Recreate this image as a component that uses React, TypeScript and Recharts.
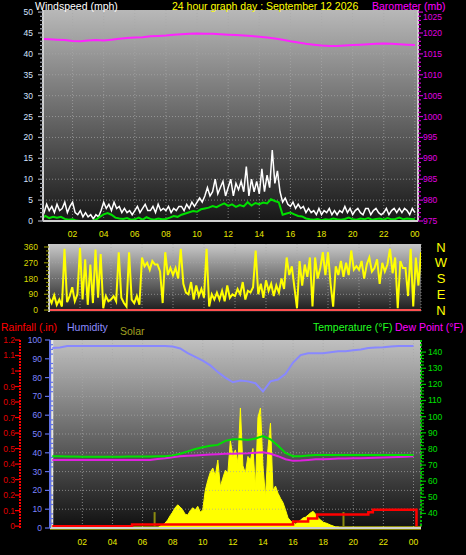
import React from "react";
import { ComposedChart, Line, Area, XAxis, YAxis, CartesianGrid, ReferenceLine } from "recharts";

const FONT = '"Liberation Sans", Arial, sans-serif';

// ---- tick labels ----
const hourTicks = [2, 4, 6, 8, 10, 12, 14, 16, 18, 20, 22, 24];
const windMajor = [0, 5, 10, 15, 20, 25, 30, 35, 40, 45, 50];
const baroMajor = [975, 980, 985, 990, 995, 1000, 1005, 1010, 1015, 1020, 1025];
const dirMajor = [0, 90, 180, 270, 360];
const compass = ["N", "E", "S", "W", "N"];
const humMajor = [0, 10, 20, 30, 40, 50, 60, 70, 80, 90, 100];
const rainMajor = [0, 0.1, 0.2, 0.3, 0.4, 0.5, 0.6, 0.7, 0.8, 0.9, 1, 1.1, 1.2];
const tempMajor = [40, 50, 60, 70, 80, 90, 100, 110, 120, 130, 140];
const humGrid = [10, 20, 30, 40, 50, 60, 70, 80, 90];
const windGrid = [5, 10, 15, 20, 25, 30, 35, 40, 45];
const dirGrid = [90, 180, 270];

// ---- 10 minute samples, 00:00 -> 24:00 ----
const windSpeed = [
  3, 2, 4, 2.5, 3.5, 2, 4, 2.5, 3, 4.5, 2, 3.5,
  4.5, 2, 1.5, 2.5, 1, 2, 1, 1.5, 0.5, 1.5, 1, 2.5,
  4.5, 3, 4, 2.5, 4.5, 3, 3.5, 2, 3, 2, 2.5, 1.5,
  2.5, 3.5, 2, 3, 4, 2.5, 2.5, 3.5, 2, 4, 2.5, 3,
  2.5, 3.5, 2, 3, 2.5, 3.5, 3.5, 2.5, 4, 3, 4.5, 3.5,
  4.5, 5.5, 4.5, 6, 8, 6, 7, 10, 6.5, 8, 9.5, 6,
  8, 10, 6, 9, 7.5, 9.5, 7, 13, 6, 10, 7, 9.5,
  6.5, 12.5, 7, 11, 8, 17, 9, 12, 7, 4.5, 5.5, 4,
  3.5, 4.5, 3, 4, 3, 3.5, 2, 3, 2, 2.5, 1.5, 3,
  1.5, 2.5, 2, 3, 1.5, 2.5, 1.5, 2.5, 2, 3.5, 2, 3,
  1.5, 2.5, 3, 2, 1.5, 3, 3, 1.5, 2.5, 3, 2, 1.5,
  2, 3, 1.5, 2.5, 3, 2, 3, 2, 3, 2.5, 1.5, 3,
  2,
];
const windDir = [
  70, 40, 85, 30, 60, 20, 350, 45, 80, 130, 50, 90,
  355, 60, 290, 30, 260, 40, 345, 70, 320, 10, 80, 50,
  60, 80, 50, 330, 70, 40, 20, 330, 60, 40, 80, 30,
  300, 250, 270, 230, 280, 260, 260, 220, 40, 330, 200, 240,
  200, 240, 180, 350, 150, 100, 90, 160, 60, 140, 80, 120,
  70, 350, 20, 90, 60, 100, 60, 110, 50, 140, 70, 90,
  80, 120, 90, 160, 60, 110, 100, 130, 340, 90, 150, 70,
  170, 110, 150, 80, 140, 100, 180, 120, 300, 200, 250, 130,
  10, 280, 140, 260, 190, 300, 20, 300, 180, 240, 330, 200,
  330, 150, 20, 250, 200, 280, 190, 270, 200, 340, 230, 250,
  230, 280, 180, 260, 300, 220, 240, 290, 150, 270, 220, 260,
  350, 210, 300, 10, 280, 240, 240, 80, 350, 20, 300, 140,
  330,
];

// ---- 15 minute samples, 00:00 -> 24:00 ----
const windAvg = [
  0.5, 1.2, 0.7, 1, 0.8, 1, 0.5, 0.3, 0.4, 0.1, 0, 0, 0, 0, 0.3, 1,
  1.6, 1.9, 1.5, 0.8, 0.6, 0.5, 0.7, 0.3, 0.4, 0.8, 0.3, 0.9, 0.5, 0.3, 0.6, 0.4,
  0.5, 0.8, 1.2, 1, 1.5, 1.8, 2.1, 2.4, 2.2, 2.8, 3, 3.2, 3.6, 3.3, 3.8, 4.2,
  3.6, 4, 3.4, 3.8, 3.5, 4.5, 3.7, 4.3, 4, 4.4, 4.2, 5.2, 4.8, 4.5, 1.5, 1.8,
  2, 1.6, 1.2, 1.1, 0.6, 0.4, 0.3, 0.5, 0.2, 0.4, 0.3, 0.6, 0.4, 0.3, 0.5, 0.8,
  0.4, 0.3, 0.6, 0.4, 0.7, 0.3, 0.5, 0.6, 0.3, 0.7, 0.4, 0.5, 0.8, 0.4, 0.6, 0.5,
  0.4,
];

// ---- 30 minute samples, 00:00 -> 24:00 ----
const barometer = [
  1018.6, 1018.5, 1018.4, 1018.3, 1018.1, 1018.0, 1018.2, 1018.3, 1018.2, 1018.4,
  1018.6, 1018.8, 1018.9, 1019.0, 1019.2, 1019.3, 1019.4, 1019.6, 1019.7, 1019.8,
  1019.9, 1019.8, 1019.8, 1019.7, 1019.6, 1019.5, 1019.4, 1019.3, 1019.1, 1018.9,
  1018.7, 1018.4, 1018.0, 1017.7, 1017.4, 1017.2, 1017.0, 1016.9, 1016.9, 1017.0,
  1017.1, 1017.2, 1017.3, 1017.4, 1017.5, 1017.4, 1017.3, 1017.2, 1017.1,
];
const humidity = [
  95.7, 96, 96.8, 96.8, 96.8, 96.8, 96.8, 96.8, 96.8, 96.8,
  96.8, 96.8, 96.8, 96.8, 96.8, 96.8, 96.5, 95.5, 93, 91,
  89, 86.5, 83, 80, 77.5, 78.5, 78, 77, 72.6, 78,
  79, 82, 88, 92, 93, 93, 93, 93.5, 94, 94,
  94.5, 95, 95.7, 96, 96.2, 96.5, 96.8, 96.8, 96.8,
];
const temperature = [
  75.5, 75.5, 75.3, 75.3, 75.2, 75.2, 75.2, 75.2, 75.2, 75.2,
  75.3, 75.3, 75.3, 75.3, 75.5, 75.5, 76, 77, 78.5, 80,
  81, 82, 82.5, 85, 86, 86, 85.5, 86.5, 88, 86,
  82, 77.5, 75.5, 75.5, 76, 76.2, 76.2, 76.2, 76.2, 76.2,
  76.2, 76.2, 76.2, 76.2, 76.2, 76.2, 76.2, 76.2, 76.2,
];
const dewPoint = [
  73.2, 73.2, 73.2, 73.2, 73.2, 73.2, 73.2, 73.2, 73.2, 73.2,
  73.2, 73.2, 73.2, 73.2, 73.8, 74.2, 74.8, 75.4, 75.8, 76,
  76.3, 76.5, 76.7, 77, 77, 77.2, 77.3, 77.6, 78, 77,
  75.5, 73.6, 72.6, 72.8, 73.2, 73.6, 73.6, 73.8, 74, 74,
  74.2, 74.2, 74.4, 74.5, 74.7, 74.8, 75, 75.2, 75.5,
];

// ---- solar radiation, 10 minute samples from 07:00 ----
const SOLAR_START = 7;
const solar = [
  0, 14, 20, 35, 55, 85, 110, 140, 160, 145, 125, 95,
  90, 120, 140, 125, 150, 110, 125, 260, 330, 385, 415, 360,
  470, 285, 345, 400, 380, 605, 495, 540, 450, 830, 430, 380,
  495, 470, 550, 285, 765, 830, 430, 215, 550, 725, 260, 290,
  240, 205, 175, 125, 70, 50, 35, 28, 40, 55, 70, 75,
  90, 105, 115, 95, 70, 55, 40, 35, 28, 20, 14, 7,
  7, 0, 0, 0,
];

// ---- rainfall (running total, inches) ----
const rainHours = [0, 5.3, 16.0, 17.0, 17.6, 20.8, 21.0, 21.3, 24.2];
const rainTotals = [0, 0.01, 0.03, 0.05, 0.075, 0.075, 0.09, 0.106, 0];

const sunMarks = [6.8, 19.35];
const SUN_MARK_HEIGHT = 110;

const rows = (vals: number[], step: number, start = 0) =>
  vals.map((v, i) => ({ h: start + i * step, v }));

const withMinor = (major: number[], parts: number) => {
  const out: number[] = [];
  for (let i = 0; i < major.length - 1; i++) {
    const step = (major[i + 1] - major[i]) / parts;
    for (let k = 0; k < parts; k++) out.push(major[i] + k * step);
  }
  out.push(major[major.length - 1]);
  return out;
};

const fmtHour = (v: number) => (v === 24 ? "00" : String(v).padStart(2, "0"));

const HourTick = (offset: number) => (p: any) => (
  <text x={p.x} y={p.y + offset} textAnchor="middle" fill="#e8e800" fontSize={8.5} fontFamily={FONT}>
    {fmtHour(p.payload.value)}
  </text>
);

type TickOpts = {
  side: "left" | "right";
  majors: number[];
  label: string;
  mark: string;
  gap: number;
  fmt?: (v: number) => string;
  minorOut?: boolean;
  topNudge?: number;
};
const makeTick = (o: TickOpts) => (p: any) => {
  const v = p.payload.value;
  const major = o.majors.some((m) => Math.abs(m - v) < 1e-6);
  const d = o.side === "left" ? -1 : 1;
  const len = major ? 5 : 3;
  const start = !major && o.minorOut ? -d * 3 : 0;
  const nudge = o.topNudge && v === o.majors[o.majors.length - 1] ? o.topNudge : 0;
  return (
    <g>
      <line x1={p.x + start} x2={p.x + start + d * len} y1={p.y} y2={p.y} stroke={o.mark} strokeWidth={1.2} />
      {major && (
        <text
          x={p.x + d * o.gap}
          y={p.y + nudge}
          dy="0.35em"
          textAnchor={o.side === "left" ? "end" : "start"}
          fill={o.label}
          fontSize={8.5}
          fontFamily={FONT}
        >
          {o.fmt ? o.fmt(v) : v}
        </text>
      )}
    </g>
  );
};

const CompassTick = (p: any) => {
  const i = dirMajor.indexOf(p.payload.value);
  return (
    <text x={p.x + 20} y={p.y} dy="0.36em" textAnchor="middle" fill="#ffff00" fontSize={13} fontFamily={FONT}>
      {compass[i]}
    </text>
  );
};

const grid = { stroke: "#a8a8a8", strokeDasharray: "1 2", strokeOpacity: 0.7 };
const frame = "#d0d0d0";

function WindPanel() {
  return (
    <ComposedChart width={466} height={245} margin={{ top: 10, right: 0, bottom: 4, left: 0 }}>
      <defs>
        <linearGradient id="bgTop" x1="0" y1="0" x2="0" y2="1">
          <stop offset="0%" stopColor="#b8b8b8" />
          <stop offset="100%" stopColor="#181818" />
        </linearGradient>
      </defs>
      <CartesianGrid yAxisId="wind" fill="url(#bgTop)" fillOpacity={1} horizontal={false} {...grid} />
      <XAxis
        type="number"
        dataKey="h"
        domain={[0.1, 24.2]}
        allowDataOverflow
        ticks={hourTicks}
        interval={0}
        height={20}
        tickSize={0}
        tickMargin={0}
        tickLine={false}
        axisLine={{ stroke: frame, strokeWidth: 2 }}
        tick={HourTick(16)}
      />
      <YAxis
        yAxisId="wind"
        width={43}
        domain={[0, 50.5]}
        allowDataOverflow
        ticks={withMinor(windMajor, 5)}
        interval={0}
        tickSize={0}
        tickMargin={0}
        tickLine={false}
        axisLine={{ stroke: frame, strokeWidth: 2 }}
        tick={makeTick({ side: "left", majors: windMajor, label: "#d4e2ff", mark: "#a0a4b0", gap: 10 })}
      />
      <YAxis
        yAxisId="baro"
        orientation="right"
        width={48}
        domain={[975, 1025.5]}
        allowDataOverflow
        ticks={withMinor(baroMajor, 5)}
        interval={0}
        tickSize={0}
        tickMargin={0}
        tickLine={false}
        axisLine={{ stroke: frame, strokeWidth: 2 }}
        tick={makeTick({ side: "right", majors: baroMajor, label: "#e000e0", mark: "#d000d0", gap: 5, topNudge: 5 })}
      />
      {windGrid.map((g) => (
        <ReferenceLine key={g} yAxisId="wind" y={g} {...grid} />
      ))}
      <Line yAxisId="baro" data={rows(barometer, 0.5)} dataKey="v" stroke="#ff22ff" strokeWidth={2} dot={false} isAnimationActive={false} />
      <Line yAxisId="wind" data={rows(windSpeed, 1 / 6)} dataKey="v" stroke="#ffffff" strokeWidth={1.5} dot={false} isAnimationActive={false} />
      <Line yAxisId="wind" data={rows(windAvg, 0.25)} dataKey="v" stroke="#00e000" strokeWidth={2} dot={false} isAnimationActive={false} />
    </ComposedChart>
  );
}

function DirectionPanel() {
  return (
    <ComposedChart width={466} height={84} margin={{ top: 8, right: 0, bottom: 8, left: 0 }}>
      <defs>
        <linearGradient id="bgMid" x1="0" y1="0" x2="0" y2="1">
          <stop offset="0%" stopColor="#c8c8c8" />
          <stop offset="100%" stopColor="#1a1a1a" />
        </linearGradient>
      </defs>
      <CartesianGrid yAxisId="dir" fill="url(#bgMid)" fillOpacity={1} horizontal={false} {...grid} />
      <XAxis type="number" dataKey="h" domain={[0, 24]} allowDataOverflow ticks={hourTicks} hide />
      <YAxis
        yAxisId="dir"
        width={49}
        domain={[-11, 377]}
        allowDataOverflow
        ticks={withMinor(dirMajor, 4)}
        interval={0}
        tickSize={0}
        tickMargin={0}
        tickLine={false}
        axisLine={{ stroke: frame, strokeWidth: 2 }}
        tick={makeTick({ side: "left", majors: dirMajor, label: "#d8d800", mark: "#8a8a00", gap: 11 })}
      />
      <YAxis
        yAxisId="dirR"
        orientation="right"
        width={45}
        domain={[-11, 377]}
        allowDataOverflow
        ticks={dirMajor}
        interval={0}
        tickSize={0}
        tickMargin={0}
        tickLine={false}
        axisLine={false}
        tick={CompassTick}
      />
      {dirGrid.map((g) => (
        <ReferenceLine key={g} yAxisId="dir" y={g} {...grid} />
      ))}
      <Line yAxisId="dir" data={rows(windDir, 1 / 6)} dataKey="v" stroke="#ffff00" strokeWidth={2} dot={false} isAnimationActive={false} />
      <ReferenceLine yAxisId="dir" y={0} stroke="#ff5050" strokeWidth={2} />
    </ComposedChart>
  );
}

function WeatherPanel() {
  return (
    <ComposedChart width={466} height={220} margin={{ top: 5, right: 0, bottom: 7, left: 0 }}>
      <defs>
        <linearGradient id="bgLow" x1="0" y1="0" x2="0" y2="1">
          <stop offset="0%" stopColor="#c0c0c0" />
          <stop offset="100%" stopColor="#101010" />
        </linearGradient>
      </defs>
      <CartesianGrid yAxisId="hum" fill="url(#bgLow)" fillOpacity={1} horizontal={false} {...grid} />
      <XAxis
        type="number"
        dataKey="h"
        domain={[-0.15, 24.5]}
        allowDataOverflow
        ticks={hourTicks}
        interval={0}
        height={20}
        tickSize={0}
        tickMargin={0}
        tickLine={false}
        axisLine={{ stroke: frame, strokeWidth: 2 }}
        tick={HourTick(17)}
      />
      <YAxis
        yAxisId="rain"
        width={20}
        domain={[-0.012, 1.2]}
        allowDataOverflow
        ticks={rainMajor}
        interval={0}
        tickSize={0}
        tickMargin={0}
        tickLine={false}
        axisLine={{ stroke: "#ff0000", strokeWidth: 2, strokeDasharray: "2 1" }}
        tick={makeTick({ side: "left", majors: rainMajor, label: "#e00000", mark: "#ff0000", gap: 5 })}
      />
      <YAxis
        yAxisId="hum"
        width={30}
        domain={[0, 100]}
        allowDataOverflow
        ticks={withMinor(humMajor, 4)}
        interval={0}
        tickSize={0}
        tickMargin={0}
        tickLine={false}
        axisLine={{ stroke: "#6070e8", strokeWidth: 2 }}
        tick={makeTick({ side: "left", majors: humMajor, label: "#7c84ff", mark: "#6070e8", gap: 8, minorOut: true })}
      />
      <YAxis
        yAxisId="temp"
        orientation="right"
        width={45}
        domain={[31, 147.5]}
        allowDataOverflow
        ticks={withMinor(tempMajor, 5)}
        interval={0}
        tickSize={0}
        tickMargin={0}
        tickLine={false}
        axisLine={{ stroke: "#00c000", strokeWidth: 2, strokeDasharray: "2 2" }}
        tick={makeTick({ side: "right", majors: tempMajor, label: "#00e000", mark: "#00c000", gap: 7 })}
      />
      <YAxis yAxisId="solar" hide domain={[0, 1300]} allowDataOverflow />
      {humGrid.map((g) => (
        <ReferenceLine key={g} yAxisId="hum" y={g} {...grid} />
      ))}
      <ReferenceLine yAxisId="hum" x={0} stroke="#e8e8e8" strokeWidth={2} />
      <Area
        yAxisId="solar"
        data={rows(solar, 1 / 6, SOLAR_START)}
        dataKey="v"
        type="linear"
        stroke="#ffff00"
        strokeWidth={1}
        fill="#ffff00"
        fillOpacity={1}
        dot={false}
        isAnimationActive={false}
      />
      <ReferenceLine yAxisId="solar" y={0} stroke="#ffff00" strokeWidth={3} />
      {sunMarks.map((m) => (
        <ReferenceLine
          key={m}
          yAxisId="solar"
          segment={[{ x: m, y: 0 }, { x: m, y: SUN_MARK_HEIGHT }]}
          stroke="#8c8c10"
          strokeWidth={2}
        />
      ))}
      <Line yAxisId="hum" data={rows(humidity, 0.5)} dataKey="v" stroke="#8888ff" strokeWidth={2} dot={false} isAnimationActive={false} />
      <Line yAxisId="temp" data={rows(dewPoint, 0.5)} dataKey="v" stroke="#e020e0" strokeWidth={2} dot={false} isAnimationActive={false} />
      <Line yAxisId="temp" data={rows(temperature, 0.5)} dataKey="v" stroke="#00e000" strokeWidth={2} dot={false} isAnimationActive={false} />
      <Line
        yAxisId="rain"
        data={rainHours.map((h, i) => ({ h, v: rainTotals[i] }))}
        dataKey="v"
        type="stepAfter"
        stroke="#ff0000"
        strokeWidth={2.5}
        dot={false}
        isAnimationActive={false}
      />
    </ComposedChart>
  );
}

export default function App() {
  const txt = { fontFamily: FONT, fontSize: 10.5 };
  return (
    <div style={{ position: "absolute", left: 0, top: 0, width: 466, height: 555, background: "#000", overflow: "hidden" }}>
      <div style={{ position: "absolute", left: 0, top: 0 }}>
        <WindPanel />
      </div>
      <div style={{ position: "absolute", left: 0, top: 236 }}>
        <DirectionPanel />
      </div>
      <div style={{ position: "absolute", left: 0, top: 335 }}>
        <WeatherPanel />
      </div>
      <svg width={466} height={555} style={{ position: "absolute", left: 0, top: 0, pointerEvents: "none" }}>
        <text x={35} y={9.5} fill="#ffffff" {...txt}>Windspeed (mph)</text>
        <text x={172} y={9.5} fill="#ffff00" {...txt}>24 hour graph day : September 12 2026</text>
        <text x={372} y={9.5} fill="#ff00ff" {...txt}>Barometer (mb)</text>
        <text x={1} y={331} fill="#ff0000" {...txt}>Rainfall (.in)</text>
        <text x={67} y={331} fill="#8c8cff" {...txt}>Humidity</text>
        <text x={120} y={335} fill="#a0a020" {...txt}>Solar</text>
        <text x={313} y={331} fill="#22ff22" {...txt}>Temperature (°F)</text>
        <text x={395} y={331} fill="#ff00ff" {...txt}>Dew Point (°F)</text>
      </svg>
    </div>
  );
}
